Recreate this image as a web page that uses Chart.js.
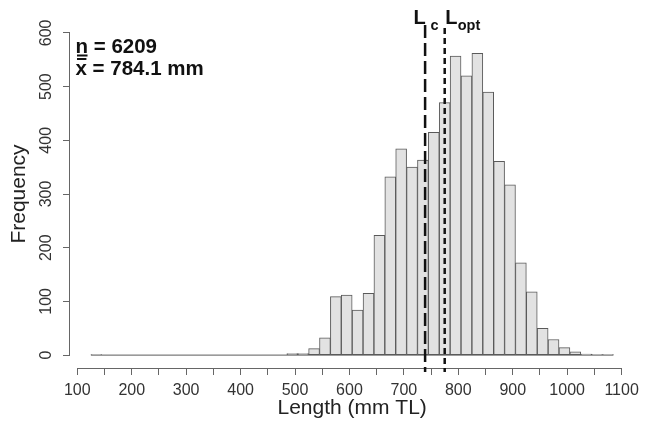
<!DOCTYPE html>
<html>
<head>
<meta charset="utf-8">
<script src="https://cdn.jsdelivr.net/npm/chart.js@4"></script>
<style>
  body { margin: 0; background: #fff; }
  #wrap { width: 645px; height: 430px; }
</style>
</head>
<body>
<div id="wrap"><canvas id="myChart"></canvas></div>
<script>
// histogram bins (lower edge, mm TL), 20 mm wide
var binStarts = [125, 145, 165, 185, 205, 225, 245, 265, 285, 305, 325, 345, 365, 385, 405, 425, 445, 465,
                 485, 505, 525, 545, 565, 585, 605, 625, 645, 665, 685, 705, 725, 745, 765, 785, 805, 825,
                 845, 865, 885, 905, 925, 945, 965, 985, 1005, 1025, 1045, 1065];
var counts = [1, 0, 0, 0, 0, 0, 0, 0, 0, 0, 0, 0, 0, 0, 0, 0, 0, 0,
              3, 3, 12, 32, 109, 112, 84, 115, 223, 332, 384, 350, 363, 415, 470, 557, 520, 562,
              490, 361, 317, 172, 118, 50, 29, 14, 6, 2, 1, 1];
var binWidth = 20;

var xTicks = [100, 150, 200, 250, 300, 350, 400, 450, 500, 550, 600, 650, 700, 750, 800, 850, 900, 950, 1000, 1050, 1100];
var yTicks = [0, 100, 200, 300, 400, 500, 600];

var Lc = 739;
var Lopt = 775;
var nText = 'n = 6209';
var meanText = 'x = 784.1 mm';

var FONT = '"Liberation Sans", Arial, sans-serif';

var bars = binStarts.map(function (s, i) { return { x: s + binWidth / 2, y: counts[i] }; });

var extras = {
  id: 'extras',
  afterDraw: function (chart) {
    var ctx = chart.ctx, xs = chart.scales.x, ys = chart.scales.y, area = chart.chartArea;
    ctx.save();

    // zero-height bins line
    var y0 = ys.getPixelForValue(0);
    ctx.strokeStyle = '#5a5a5a';
    ctx.lineWidth = 1;
    ctx.beginPath();
    ctx.moveTo(xs.getPixelForValue(binStarts[0]), y0);
    ctx.lineTo(xs.getPixelForValue(binStarts[binStarts.length - 1] + binWidth), y0);
    ctx.stroke();

    // axis lines (R style, tick range only)
    ctx.strokeStyle = '#666';
    ctx.beginPath();
    ctx.moveTo(xs.getPixelForValue(xTicks[0]), area.bottom + 0.5);
    ctx.lineTo(xs.getPixelForValue(xTicks[xTicks.length - 1]), area.bottom + 0.5);
    ctx.moveTo(area.left - 0.5, ys.getPixelForValue(yTicks[0]));
    ctx.lineTo(area.left - 0.5, ys.getPixelForValue(yTicks[yTicks.length - 1]));
    ctx.stroke();

    // rotated y tick labels
    ctx.fillStyle = '#333';
    ctx.font = '16px ' + FONT;
    ctx.textAlign = 'center';
    ctx.textBaseline = 'middle';
    yTicks.forEach(function (v) {
      ctx.save();
      ctx.translate(47, ys.getPixelForValue(v));
      ctx.rotate(-Math.PI / 2);
      ctx.fillText(String(v), 0, 0);
      ctx.restore();
    });

    // Lc and Lopt dashed lines
    var xc = xs.getPixelForValue(Lc), xo = xs.getPixelForValue(Lopt);
    ctx.strokeStyle = '#111';
    ctx.lineWidth = 2.5;
    ctx.setLineDash([13, 5]);
    ctx.beginPath();
    ctx.moveTo(xc, 25);
    ctx.lineTo(xc, area.bottom + 4);
    ctx.stroke();
    ctx.setLineDash([6, 4]);
    ctx.beginPath();
    ctx.moveTo(xo, 28);
    ctx.lineTo(xo, area.bottom + 4);
    ctx.stroke();
    ctx.setLineDash([]);

    ctx.fillStyle = '#111';
    ctx.textAlign = 'left';
    ctx.textBaseline = 'alphabetic';
    ctx.font = 'bold 20px ' + FONT;
    ctx.fillText('L', xc - 11.5, 24);
    ctx.fillText('L', xo + 0.5, 24);
    ctx.font = 'bold 14.5px ' + FONT;
    ctx.fillText('c', xc + 5.5, 30);
    ctx.fillText('opt', xo + 13, 30);

    // n and mean
    ctx.font = 'bold 20.5px ' + FONT;
    ctx.fillText(nText, 75.5, 52.5);
    ctx.fillText(meanText, 75.5, 75);
    var nw = ctx.measureText('n').width, xw = ctx.measureText('x').width;
    ctx.lineWidth = 1.8;
    ctx.beginPath();
    ctx.moveTo(77, 55.5); ctx.lineTo(75 + nw, 55.5);
    ctx.moveTo(77, 59); ctx.lineTo(75 + xw, 59);
    ctx.stroke();

    ctx.restore();
  }
};

var ctx = document.getElementById('myChart').getContext('2d');
var chart = new Chart(ctx, {
  type: 'bar',
  data: {
    datasets: [{
      data: bars,
      backgroundColor: '#e2e2e2',
      borderColor: '#5a5a5a',
      borderWidth: 1,
      borderSkipped: false,
      barPercentage: 1,
      categoryPercentage: 1
    }]
  },
  plugins: [extras],
  options: {
    responsive: true,
    maintainAspectRatio: false,
    animation: false,
    layout: { padding: { top: 20, right: 9, left: 0, bottom: 0 } },
    plugins: { legend: { display: false }, tooltip: { enabled: false } },
    scales: {
      x: {
        type: 'linear',
        offset: false,
        min: 86.6,
        max: 1123.4,
        afterBuildTicks: function (s) { s.ticks = xTicks.map(function (v) { return { value: v }; }); },
        afterFit: function (s) { s.height = 62; },
        grid: { display: true, offset: false, drawOnChartArea: false, drawTicks: true, tickLength: 7, color: '#666' },
        border: { display: false },
        ticks: {
          autoSkip: false, maxRotation: 0, minRotation: 0, padding: 6,
          color: '#333', font: { family: FONT, size: 16 },
          callback: function (v) { return v % 100 === 0 ? String(v) : ''; }
        },
        title: { display: true, text: 'Length (mm TL)', color: '#222', font: { family: FONT, size: 21 }, padding: { top: 0, bottom: 9 } }
      },
      y: {
        min: -24,
        max: 624,
        afterBuildTicks: function (s) { s.ticks = yTicks.map(function (v) { return { value: v }; }); },
        afterFit: function (s) { s.width = 70; },
        grid: { display: true, drawOnChartArea: false, drawTicks: true, tickLength: 7, color: '#666' },
        border: { display: false },
        ticks: { display: false },
        title: { display: true, text: 'Frequency', color: '#222', font: { family: FONT, size: 21 }, padding: { top: 6.5, bottom: 0 } }
      }
    }
  }
});
</script>
</body>
</html>
